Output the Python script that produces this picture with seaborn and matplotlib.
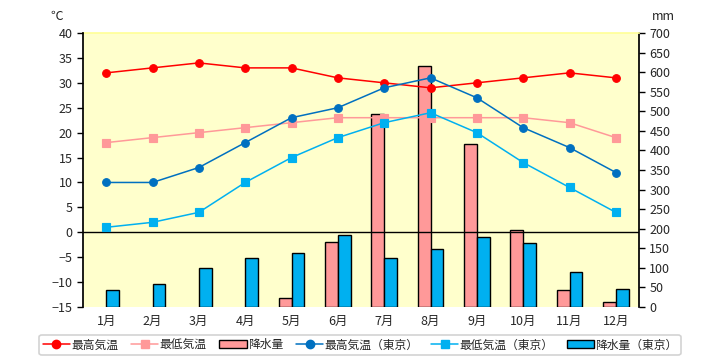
import matplotlib
matplotlib.use("Agg")
import matplotlib.pyplot as plt
import pandas as pd
import seaborn as sns
from matplotlib.lines import Line2D
from matplotlib.patches import Patch

months = [f"{m}月" for m in range(1, 13)]

temp_max = [32, 33, 34, 33, 33, 31, 30, 29, 30, 31, 32, 31]
temp_min = [18, 19, 20, 21, 22, 23, 23, 23, 23, 23, 22, 19]
rain = [0, 0, 0, 0, 22, 165, 494, 617, 416, 198, 43, 12]

tokyo_max = [10, 10, 13, 18, 23, 25, 29, 31, 27, 21, 17, 12]
tokyo_min = [1, 2, 4, 10, 15, 19, 22, 24, 20, 14, 9, 4]
tokyo_rain = [43, 59, 99, 124, 137, 183, 124, 147, 178, 163, 89, 46]

RED = "#FF0000"
PINK = "#FF9999"
DBLUE = "#0070C0"
LBLUE = "#00B0F0"

sns.set_theme(style="white")
plt.rcParams["font.family"] = ["Noto Sans CJK JP", "DejaVu Sans"]

rain_df = pd.DataFrame({
    "month": months * 2,
    "mm": rain + tokyo_rain,
    "series": ["降水量"] * 12 + ["降水量（東京）"] * 12,
})

fig = plt.figure(figsize=(7.2, 3.6), dpi=100)
ax = fig.add_axes([0.1153, 0.1472, 0.7722, 0.7611])
ax.set_facecolor("#FFFFCC")

# precipitation bars (right axis)
sns.barplot(data=rain_df, x="month", y="mm", hue="series", palette=[PINK, LBLUE],
            width=0.56, edgecolor="black", linewidth=1, saturation=1,
            ax=ax, legend=False)
for p in ax.patches:
    if p.get_height() == 0:
        p.set_visible(False)
ax.set_ylim(0, 700)
ax.set_yticks(range(0, 701, 50))
ax.set_xlim(-0.5, 11.5)

# temperatures (left axis)
ax2 = ax.twinx()
ax.yaxis.tick_right()
ax2.yaxis.tick_left()
ax2.patch.set_visible(False)
temp_series = [
    (temp_max, RED, "o"),
    (temp_min, PINK, "s"),
    (tokyo_max, DBLUE, "o"),
    (tokyo_min, LBLUE, "s"),
]
for vals, col, mk in temp_series:
    sns.pointplot(x=months, y=vals, color=col, marker=mk, markersize=5.5,
                  linewidth=1.1, ax=ax2, errorbar=None)
ax2.set_ylim(-15, 40)
ax2.set_yticks(range(-15, 41, 5))
ax2.set_xlim(-0.5, 11.5)
ax2.axhline(0, color="black", linewidth=1, zorder=1)

for a in (ax, ax2):
    a.set_xlabel("")
    a.set_ylabel("")
    a.tick_params(axis="y", labelsize=9, length=4, width=1, color="black")
    a.tick_params(axis="x", labelsize=9, length=0, pad=6)
    for s in ("top", "bottom", "left", "right"):
        a.spines[s].set_visible(False)
ax2.spines["left"].set_visible(True)
ax2.spines["left"].set_color("black")
ax.spines["right"].set_visible(True)
ax.spines["right"].set_color("black")
ax.spines["top"].set_visible(True)
ax.spines["top"].set_color("#FFFF99")

fig.text(0.079, 0.955, "℃", fontsize=9, ha="center", va="center")
fig.text(0.921, 0.955, "mm", fontsize=9, ha="center", va="center")

handles = [
    Line2D([], [], color=RED, marker="o", markersize=6, linewidth=1.1),
    Line2D([], [], color=PINK, marker="s", markersize=6, linewidth=1.1),
    Patch(facecolor=PINK, edgecolor="black"),
    Line2D([], [], color=DBLUE, marker="o", markersize=6, linewidth=1.1),
    Line2D([], [], color=LBLUE, marker="s", markersize=6, linewidth=1.1),
    Patch(facecolor=LBLUE, edgecolor="black"),
]
labels = ["最高気温", "最低気温", "降水量", "最高気温（東京）", "最低気温（東京）", "降水量（東京）"]
leg = fig.legend(handles, labels, loc="center", bbox_to_anchor=(0.5, 0.042), ncol=6,
                 fontsize=8.5, frameon=True, fancybox=True, handlelength=2.3,
                 handletextpad=0.1, columnspacing=1.1, borderpad=0.3)
leg.get_frame().set_edgecolor("#C8C8C8")
leg.get_frame().set_linewidth(1.2)

fig.savefig("out.png", dpi=100)
